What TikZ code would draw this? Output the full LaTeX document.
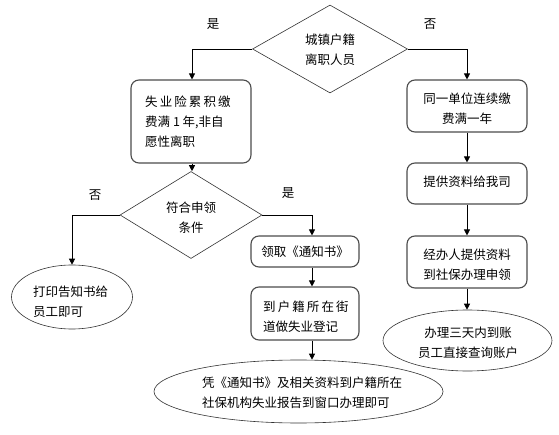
\documentclass[tikz,border=0pt]{standalone}
\usepackage{fontspec}
\setmainfont{Noto Sans CJK SC}
\usetikzlibrary{shapes.geometric,arrows.meta}
\begin{document}
\begin{tikzpicture}[x=1pt,y=-1pt,
  every node/.style={font=\fontsize{12.5}{20}\selectfont, inner sep=0pt},
  rbox/.style={draw=black!70, line width=1.1pt, rounded corners=8pt, rectangle},
  dia/.style={draw=black!80, line width=0.6pt, diamond},
  ell/.style={draw=black!80, line width=0.6pt, ellipse},
  arr/.style={-{Triangle[length=6pt,width=6pt]}, line width=0.8pt},
  lab/.style={font=\fontsize{12.5}{14}\selectfont}]
\useasboundingbox (0,0) rectangle (559,435);
\fill[white] (0,0) rectangle (559,435);

\node[dia, minimum width=155pt, minimum height=88pt, aspect=1.76] (d1) at (330,49) {};
\node[align=center] (d1t) at (330,50) {城镇户籍\\离职人员};

\node[rbox, minimum width=120pt, minimum height=83pt] (b1) at (191,121.5) {};
\node[align=left, anchor=west] (b1t) at (145,122) {失\,业\,险\,累\,积\,缴\\费满 1 年,非自\\愿性离职};

\node[dia, minimum width=142pt, minimum height=87pt, aspect=1.63] (d2) at (191,215) {};
\node[align=center] (d2t) at (191,218) {符合申领\\条件};

\node[ell, minimum width=121pt, minimum height=64pt] (e1) at (72,297) {};
\node[align=left, anchor=west] (e1t) at (33,302) {打印告知书给\\员工即可};

\node[rbox, minimum width=108pt, minimum height=31pt] (b2) at (305,251.5) {};
\node (b2t) at (305,252) {领取《通知书》};

\node[rbox, minimum width=108pt, minimum height=53pt] (b3) at (305,313.5) {};
\node[align=left, anchor=west] (b3t) at (263,317) {到\,户\,籍\,所\,在\,街\\道做失业登记};

\node[ell, minimum width=289pt, minimum height=63pt] (e2) at (298.5,391.5) {};
\node[align=left, anchor=west] (e2t) at (202,393) {凭《通知书》及相关资料到户籍所在\\社保机构失业报告到窗口办理即可};

\node[rbox, minimum width=120pt, minimum height=52pt] (r1) at (467,106) {};
\node[align=center] (r1t) at (467,109) {同一单位连续缴\\费满一年};

\node[rbox, minimum width=120pt, minimum height=41pt] (r2) at (467,183.5) {};
\node (r2t) at (467,182) {提供资料给我司};

\node[rbox, minimum width=120pt, minimum height=52pt] (r3) at (467,262) {};
\node[align=center] (r3t) at (467,265) {经办人提供资料\\到社保办理申领};

\node[ell, minimum width=169pt, minimum height=61pt] (e3) at (467.5,340.5) {};
\node[align=center] (e3t) at (468,343) {办理三天内到账\\员工直接查询账户};

\node[lab] (l1) at (213,24) {是};
\node[lab] (l2) at (430,24) {否};
\node[lab] (l3) at (95,195) {否};
\node[lab] (l4) at (288,193) {是};

\coordinate (c1) at (192,49);
\coordinate (c2) at (467,49);
\draw[arr] (d1.west) -- (c1) -- (b1.north -| c1);
\draw[arr] (d1.east) -- (c2) -- (r1.north -| c2);
\draw[arr] (b1.south -| c1) -- (d2.north -| c1);
\coordinate (c3) at (72,215);
\coordinate (c4) at (312,215);
\draw[arr] (d2.west) -- (c3) -- (e1.north -| c3);
\draw[arr] (d2.east) -- (c4) -- (b2.north -| c4);
\draw[arr] (b2.south -| c4) -- (b3.north -| c4);
\draw[arr] (b3.south -| c4) -- (e2.north -| c4);
\draw[arr] (r1) -- (r2);
\draw[arr] (r2) -- (r3);
\draw[arr] (r3.south) -- (r3.south |- e3.north);
\end{tikzpicture}
\end{document}
